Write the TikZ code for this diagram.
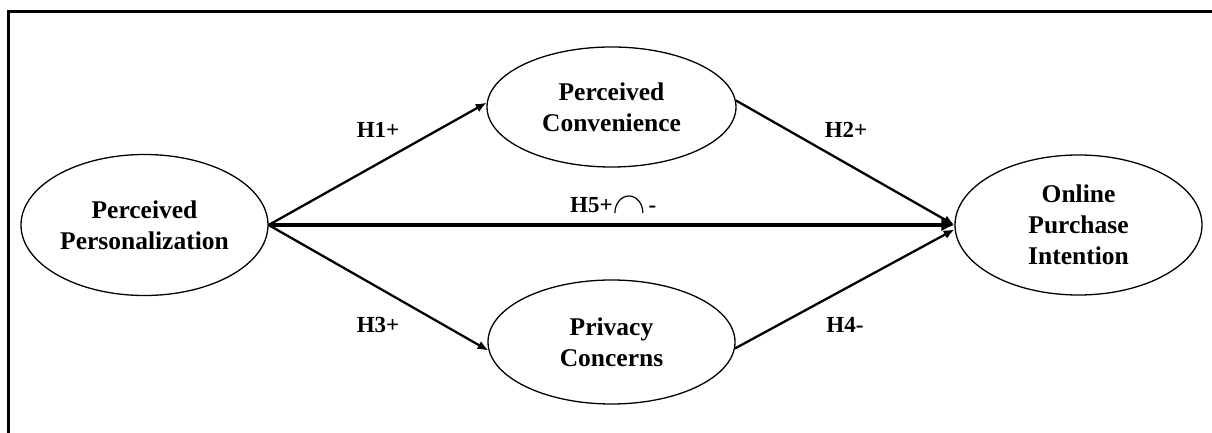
\documentclass[tikz,border=0pt]{standalone}
\usepackage{fontspec}
\setmainfont{Liberation Serif}
\usetikzlibrary{shapes.geometric,arrows.meta}

\begin{document}
\begin{tikzpicture}[x=1pt,y=1pt,
	construct/.style={shape=ellipse, draw, line width=1.3pt, inner sep=0pt, align=center, font=\fontsize{25.5}{31}\selectfont\bfseries},
	hyp/.style={font=\fontsize{23}{27}\selectfont\bfseries, inner sep=0pt},
	link/.style={line width=2.3pt, -{Latex[length=11pt,width=9pt]}},
	mainlink/.style={line width=3.2pt, -{Latex[length=13pt,width=13pt]}}]
	\useasboundingbox (0,0) rectangle (1212,433);
	% frame
	\draw[line width=3pt] (8,0) -- (8,421) -- (1212,421);
	% constructs
	\node[construct, minimum width=247pt, minimum height=141pt] (pp) at (144.5,208) {Perceived\\Personalization};
	\node[construct, minimum width=249pt, minimum height=120pt] (pc) at (611.5,326) {Perceived\\Convenience};
	\node[construct, minimum width=247pt, minimum height=124pt] (pcon) at (611.5,91) {Privacy\\Concerns};
	\node[construct, minimum width=247pt, minimum height=140pt] (opi) at (1078.5,208) {Online\\Purchase\\Intention};
	% paths
	\draw[link] (pp.east) -- (pc.178);
	\draw[link] (pp.east) -- (pcon.184);
	\draw[link] (pc.3) -- (opi.west);
	\draw[link] (pcon.-3) -- (opi.182);
	\draw[mainlink] (pp.east) -- (opi.west);
	% hypotheses
	\node[hyp] (h1) at (378,303) {H1+};
	\node[hyp] (h2) at (846,303) {H2+};
	\node[hyp] (h3) at (378,108) {H3+};
	\node[hyp] (h4) at (845,108) {H4-};
	\node[hyp, anchor=base west] (h5) at (570,220) {H5+};
	\draw[line width=1.2pt] ([xshift=2pt]h5.base east) arc[start angle=180, end angle=0, x radius=14, y radius=17]
		node[hyp, anchor=base west, xshift=5pt] (h5m) {-};
\end{tikzpicture}
\end{document}
